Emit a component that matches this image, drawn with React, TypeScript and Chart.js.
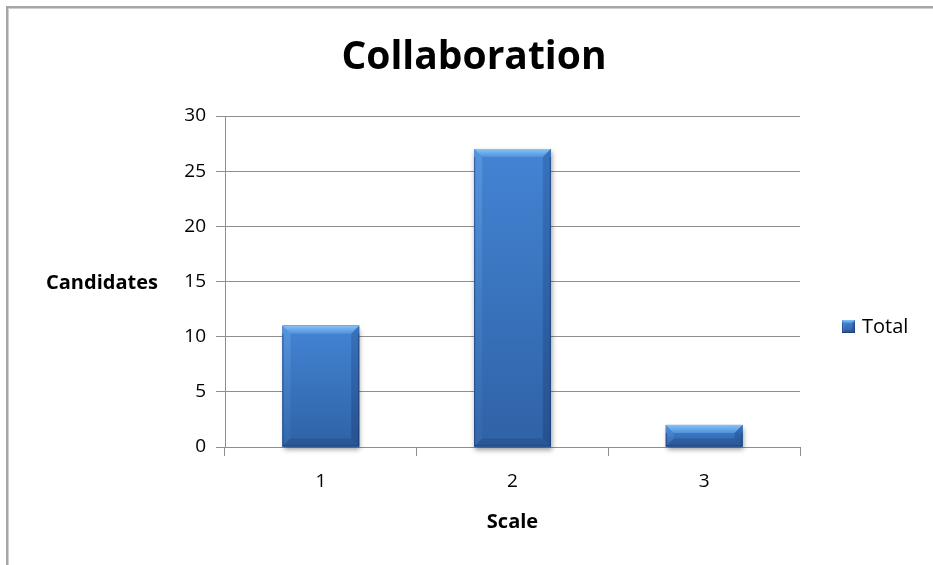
import { useEffect, useRef } from "react";
import { Chart, registerables } from "chart.js";

Chart.register(...registerables);

// Chart content
const chartTitle = "Collaboration";
const xAxisTitle = "Scale";
const yAxisTitle = "Candidates";
const seriesLabel = "Total";
const categories = ["1", "2", "3"];
const totals = [11, 27, 2];
const yTickValues = [0, 5, 10, 15, 20, 25, 30];

const FONT = "'Open Sans', 'Noto Sans', sans-serif";
const GRID = "#8e8e8e";

type Pt = [number, number];

function poly(ctx: CanvasRenderingContext2D, pts: Pt[], fill: string | CanvasGradient) {
  ctx.beginPath();
  ctx.moveTo(pts[0][0], pts[0][1]);
  for (let i = 1; i < pts.length; i++) ctx.lineTo(pts[i][0], pts[i][1]);
  ctx.closePath();
  ctx.fillStyle = fill;
  ctx.fill();
}

// Draws a bevelled, gradient-shaded block in the rectangle l,t,w,h
function bevelBlock(ctx: CanvasRenderingContext2D, l: number, t: number, w: number, h: number, b: number) {
  const r = l + w;
  const bt = t + h;
  const bb = Math.min(b, h / 2, w / 2);
  const face = ctx.createLinearGradient(0, t, 0, bt);
  face.addColorStop(0, "#4384d4");
  face.addColorStop(1, "#2f62a6");
  ctx.fillStyle = face;
  ctx.fillRect(l, t, w, h);

  const top = ctx.createLinearGradient(0, t, 0, t + bb);
  top.addColorStop(0, "#86c2f5");
  top.addColorStop(1, "#4f92df");
  poly(ctx, [[l, t], [r, t], [r - bb, t + bb], [l + bb, t + bb]], top);

  const left = ctx.createLinearGradient(0, t, 0, bt);
  left.addColorStop(0, "rgba(120,180,240,0.35)");
  left.addColorStop(1, "rgba(70,120,190,0.2)");
  poly(ctx, [[l, t], [l + bb, t + bb], [l + bb, bt - bb], [l, bt]], left);

  const right = ctx.createLinearGradient(0, t, 0, bt);
  right.addColorStop(0, "rgba(25,60,120,0.25)");
  right.addColorStop(1, "rgba(20,50,100,0.35)");
  poly(ctx, [[r, t], [r - bb, t + bb], [r - bb, bt - bb], [r, bt]], right);

  poly(ctx, [[l, bt], [r, bt], [r - bb, bt - bb], [l + bb, bt - bb]], "rgba(25,60,115,0.3)");

  // thin dark outline on the sides and bottom
  ctx.fillStyle = "rgba(20,50,100,0.55)";
  ctx.fillRect(l, t + bb, 1, h - bb);
  ctx.fillRect(r - 1, t + bb, 1, h - bb);
  ctx.fillRect(l, bt - 1, w, 1);
}

const decorPlugin = {
  id: "decor",
  beforeDraw(chart: any) {
    const { ctx, width, height } = chart;
    ctx.save();
    ctx.fillStyle = "#ffffff";
    ctx.fillRect(0, 0, width, height);
    // outer frame (left and top edges)
    ctx.fillStyle = "#a6a6a6";
    ctx.fillRect(6, 6, width - 6, 2);
    ctx.fillRect(6, 6, 2, height - 6);
    ctx.fillStyle = "#d0d0d0";
    ctx.fillRect(8, 8, width - 8, 1);
    ctx.fillRect(8, 8, 1, height - 8);
    ctx.restore();
  },
  beforeDatasetsDraw(chart: any) {
    const { ctx } = chart;
    const meta = chart.getDatasetMeta(0);
    ctx.save();
    ctx.shadowColor = "rgba(0,0,0,0.4)";
    ctx.shadowBlur = 5;
    ctx.shadowOffsetX = 1;
    ctx.shadowOffsetY = 3;
    ctx.fillStyle = "#2f62a6";
    for (const el of meta.data) {
      const { x, y, base, width } = el.getProps(["x", "y", "base", "width"], true);
      ctx.fillRect(x - width / 2, Math.min(y, base), width, Math.abs(base - y));
    }
    ctx.restore();
  },
  afterDatasetsDraw(chart: any) {
    const { ctx } = chart;
    const meta = chart.getDatasetMeta(0);
    ctx.save();
    for (const el of meta.data) {
      const { x, y, base, width } = el.getProps(["x", "y", "base", "width"], true);
      bevelBlock(ctx, x - width / 2, Math.min(y, base), width, Math.abs(base - y), 8);
    }
    ctx.restore();
  },
  afterDraw(chart: any) {
    const { ctx, chartArea } = chart;
    ctx.save();
    ctx.fillStyle = "#000000";
    ctx.textBaseline = "alphabetic";

    ctx.font = `bold 39px ${FONT}`;
    ctx.textAlign = "center";
    ctx.fillText(chartTitle, 474, 69);

    ctx.font = `bold 20px ${FONT}`;
    ctx.textAlign = "left";
    ctx.fillText(yAxisTitle, 46, 289);

    ctx.textAlign = "center";
    ctx.fillText(xAxisTitle, (chartArea.left + chartArea.right) / 2, 528);

    // legend
    const label = chart.data.datasets[0].label;
    bevelBlock(ctx, 842, 320, 13, 13, 3);
    ctx.fillStyle = "#000000";
    ctx.font = `20px ${FONT}`;
    ctx.textAlign = "left";
    ctx.fillText(label, 862, 333);
    ctx.restore();
  },
};

export default function App() {
  const canvasRef = useRef<HTMLCanvasElement | null>(null);

  useEffect(() => {
    if (!canvasRef.current) return;
    const chart = new Chart(canvasRef.current, {
      type: "bar",
      data: {
        labels: categories,
        datasets: [
          {
            label: seriesLabel,
            data: totals,
            backgroundColor: "#3a75c0",
            borderWidth: 0,
            barPercentage: 0.4,
            categoryPercentage: 1.0,
          },
        ],
      },
      options: {
        animation: false,
        responsive: false,
        devicePixelRatio: 1,
        layout: { padding: { top: 116, right: 133, bottom: 0, left: 0 } },
        plugins: {
          legend: { display: false },
          title: { display: false },
          tooltip: { enabled: false },
        },
        scales: {
          x: {
            offset: true,
            grid: {
              display: true,
              drawOnChartArea: false,
              drawTicks: true,
              tickLength: 9,
              offset: true,
              color: GRID,
            },
            border: { display: true, color: GRID },
            ticks: { color: "#000", font: { family: FONT, size: 19 }, padding: 14 },
            afterFit: (s: any) => {
              s.height = 118;
            },
          },
          y: {
            min: 0,
            max: 30,
            grid: { color: GRID, lineWidth: 1, tickLength: 9, drawTicks: true },
            border: { display: true, color: GRID },
            ticks: { color: "#000", font: { family: FONT, size: 19 }, padding: 10 },
            afterBuildTicks: (s: any) => {
              s.ticks = yTickValues.map((v) => ({ value: v }));
            },
            afterFit: (s: any) => {
              s.width = 225;
            },
          },
        },
      },
      plugins: [decorPlugin],
    });
    return () => chart.destroy();
  }, []);

  return (
    <div style={{ position: "fixed", left: 0, top: 0, width: 933, height: 565, background: "#fff" }}>
      <canvas ref={canvasRef} width={933} height={565} />
    </div>
  );
}
